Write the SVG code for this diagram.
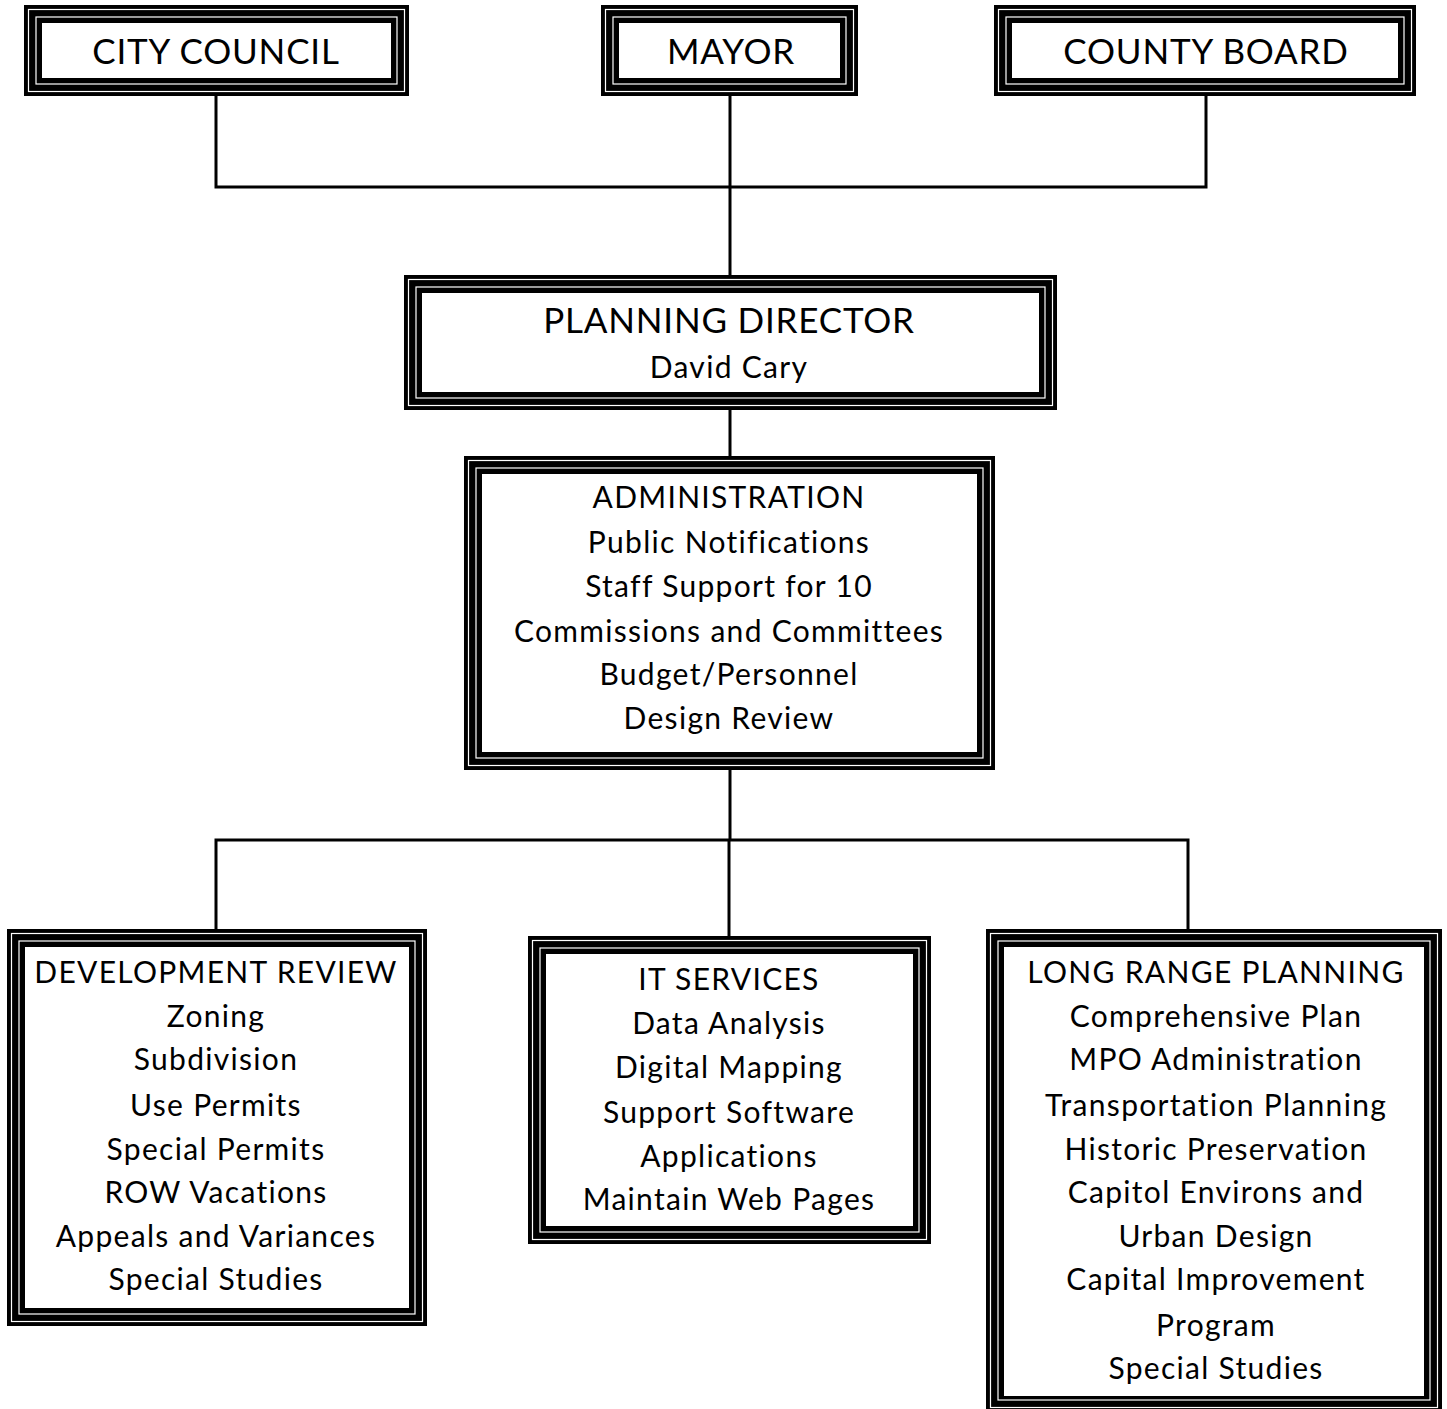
<svg xmlns="http://www.w3.org/2000/svg" width="1447" height="1409" viewBox="0 0 1447 1409">
<style>
.o{fill:#000}
.l{fill:none;stroke:#fff;stroke-width:1.2}
.i{fill:#fff}
.c{fill:none;stroke:#000;stroke-width:3}
text{font-family:Lato,"Liberation Sans",sans-serif;fill:#000;text-anchor:middle}
.t1{font-size:35px;letter-spacing:0.8px}
.t2{font-size:30px;letter-spacing:1.3px}
</style>
<rect width="1447" height="1409" fill="#fff"/>
<g id="connectors">
<path class="c" d="M216 96V187H1206V96"/>
<path class="c" d="M730 96V275"/>
<path class="c" d="M730 410V456"/>
<path class="c" d="M730 770V840"/>
<path class="c" d="M216 929V840H1188V929"/>
<path class="c" d="M729 840V936"/>
</g>
<g id="city-council">
<rect class="o" x="24" y="5" width="385" height="91"/>
<rect class="l" x="28.5" y="9.5" width="376" height="82"/>
<rect class="l" x="36" y="17" width="361" height="67"/>
<rect class="i" x="42" y="23" width="349" height="55"/>
<text class="t1" x="216" y="64">CITY COUNCIL</text>
</g>
<g id="mayor">
<rect class="o" x="601" y="5" width="257" height="91"/>
<rect class="l" x="605.5" y="9.5" width="248" height="82"/>
<rect class="l" x="613" y="17" width="233" height="67"/>
<rect class="i" x="619" y="23" width="221" height="55"/>
<text class="t1" x="731" y="64">MAYOR</text>
</g>
<g id="county-board">
<rect class="o" x="994" y="5" width="422" height="91"/>
<rect class="l" x="998.5" y="9.5" width="413" height="82"/>
<rect class="l" x="1006" y="17" width="398" height="67"/>
<rect class="i" x="1012" y="23" width="386" height="55"/>
<text class="t1" x="1206" y="64">COUNTY BOARD</text>
</g>
<g id="planning-director">
<rect class="o" x="404" y="275" width="653" height="135"/>
<rect class="l" x="408.5" y="279.5" width="644" height="126"/>
<rect class="l" x="416" y="287" width="629" height="111"/>
<rect class="i" x="422" y="293" width="617" height="99"/>
<text class="t1" x="729" y="333">PLANNING DIRECTOR</text>
<text class="t2" x="729" y="378">David Cary</text>
</g>
<g id="administration">
<rect class="o" x="464" y="456" width="531" height="314"/>
<rect class="l" x="468.5" y="460.5" width="522" height="305"/>
<rect class="l" x="476" y="468" width="507" height="290"/>
<rect class="i" x="482" y="474" width="495" height="278"/>
<text class="t2" x="729" y="508">ADMINISTRATION</text>
<text class="t2" x="729" y="553">Public Notifications</text>
<text class="t2" x="729" y="597">Staff Support  for 10</text>
<text class="t2" x="729" y="642">Commissions and Committees</text>
<text class="t2" x="729" y="685">Budget/Personnel</text>
<text class="t2" x="729" y="729">Design Review</text>
</g>
<g id="development-review">
<rect class="o" x="7" y="929" width="420" height="397"/>
<rect class="l" x="11.5" y="933.5" width="411" height="388"/>
<rect class="l" x="19" y="941" width="396" height="373"/>
<rect class="i" x="25" y="947" width="384" height="361"/>
<text class="t2" x="216" y="983">DEVELOPMENT REVIEW</text>
<text class="t2" x="216" y="1027">Zoning</text>
<text class="t2" x="216" y="1070">Subdivision</text>
<text class="t2" x="216" y="1116">Use Permits</text>
<text class="t2" x="216" y="1160">Special Permits</text>
<text class="t2" x="216" y="1203">ROW Vacations</text>
<text class="t2" x="216" y="1247">Appeals and Variances</text>
<text class="t2" x="216" y="1290">Special Studies</text>
</g>
<g id="it-services">
<rect class="o" x="528" y="936" width="403" height="308"/>
<rect class="l" x="532.5" y="940.5" width="394" height="299"/>
<rect class="l" x="540" y="948" width="379" height="284"/>
<rect class="i" x="546" y="954" width="367" height="272"/>
<text class="t2" x="729" y="990">IT SERVICES</text>
<text class="t2" x="729" y="1034">Data Analysis</text>
<text class="t2" x="729" y="1078">Digital Mapping</text>
<text class="t2" x="729" y="1123">Support  Software</text>
<text class="t2" x="729" y="1167">Applications</text>
<text class="t2" x="729" y="1210">Maintain Web Pages</text>
</g>
<g id="long-range-planning">
<rect class="o" x="986" y="929" width="456" height="483"/>
<rect class="l" x="990.5" y="933.5" width="447" height="474"/>
<rect class="l" x="998" y="941" width="432" height="459"/>
<rect class="i" x="1004" y="947" width="420" height="449"/>
<text class="t2" x="1216" y="983">LONG RANGE PLANNING</text>
<text class="t2" x="1216" y="1027">Comprehensive  Plan</text>
<text class="t2" x="1216" y="1070">MPO Administration</text>
<text class="t2" x="1216" y="1116">Transportation  Planning</text>
<text class="t2" x="1216" y="1160">Historic Preservation</text>
<text class="t2" x="1216" y="1203">Capitol Environs and</text>
<text class="t2" x="1216" y="1247">Urban Design</text>
<text class="t2" x="1216" y="1290">Capital Improvement</text>
<text class="t2" x="1216" y="1336">Program</text>
<text class="t2" x="1216" y="1379">Special Studies</text>
</g>
</svg>
